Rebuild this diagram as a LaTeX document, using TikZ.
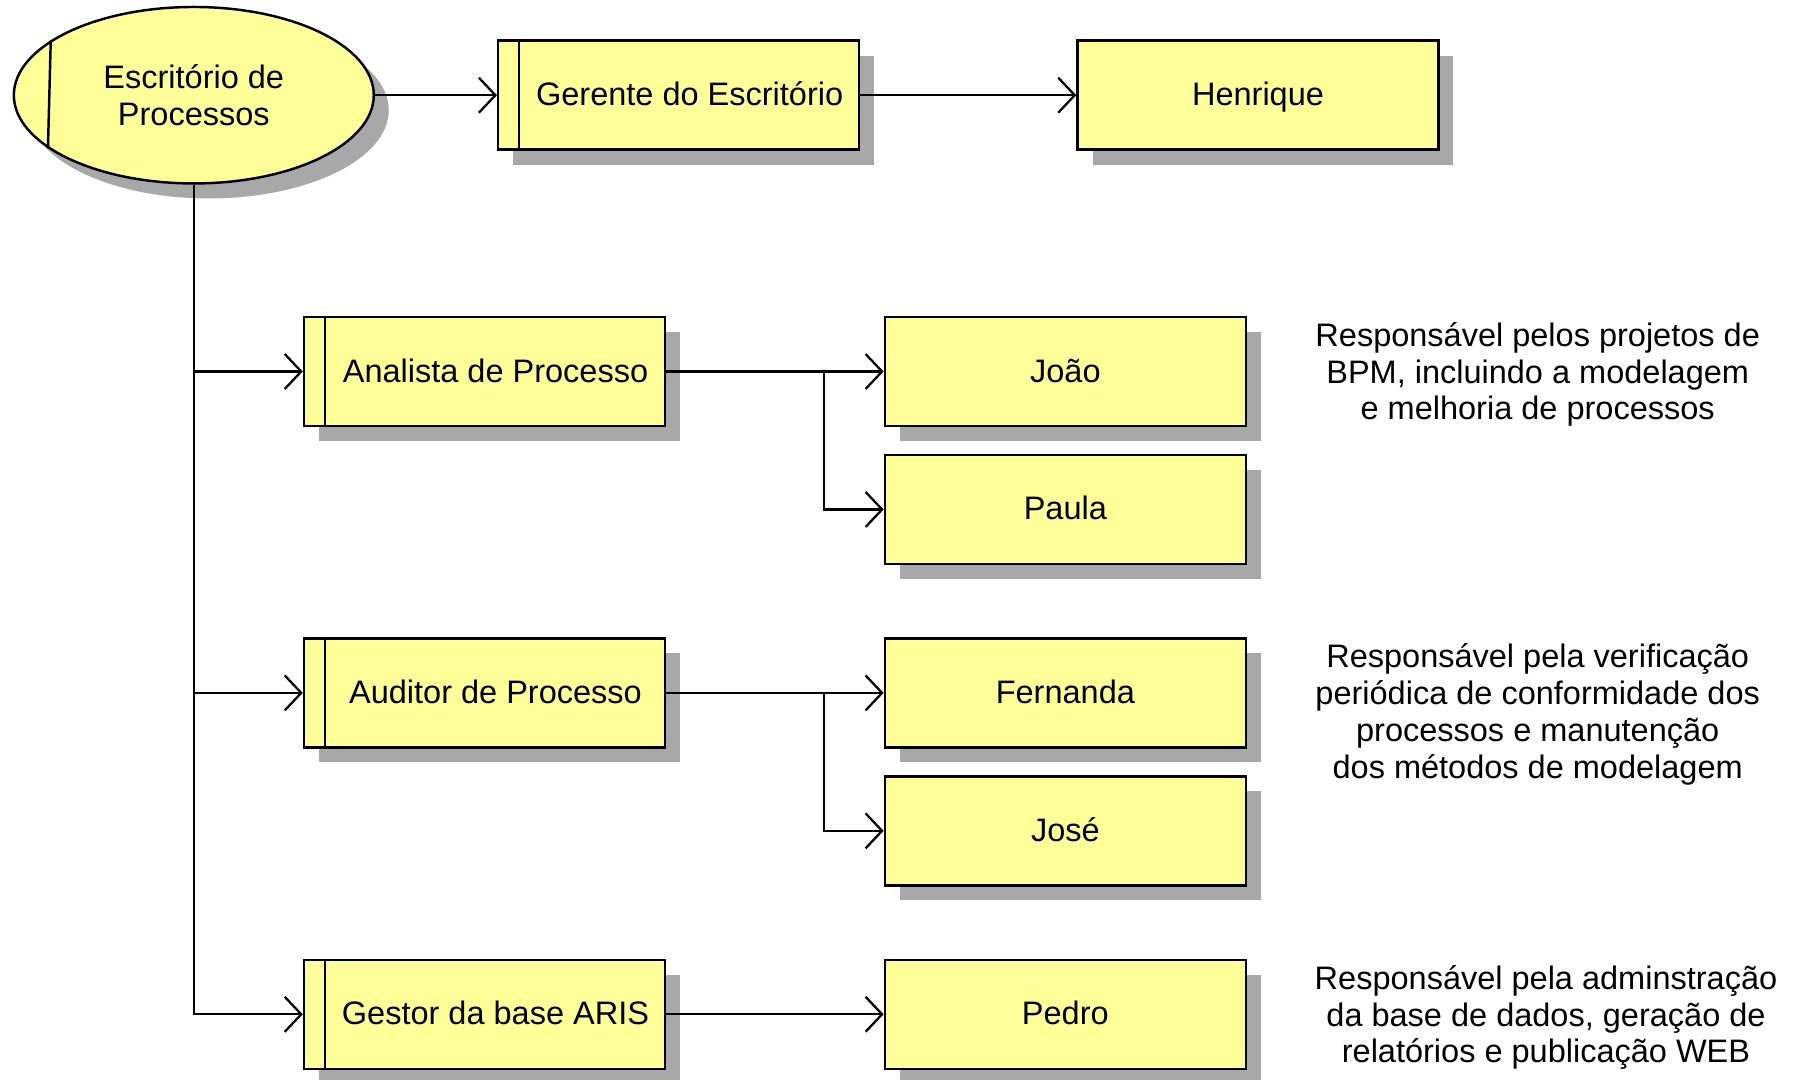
\documentclass[tikz,border=0pt]{standalone}
\usepackage{fontspec}
\setmainfont{Liberation Sans}
\usepackage{tikz}
\usetikzlibrary{arrows.meta, positioning, shapes.geometric, shadows}
\definecolor{orgfill}{RGB}{255, 255, 153}

\begin{document}
\begin{tikzpicture}[
    x=0.02cm, y=-0.02cm,
    boxshadow/.style={drop shadow={shadow xshift=0.3cm, shadow yshift=-0.3cm, opacity=1, fill=black!34}},
    base/.style={draw, line width=1.4pt, fill=orgfill, boxshadow, inner sep=0pt, align=center, font=\fontsize{18.5}{21}\selectfont},
    box/.style={base, rectangle, minimum width=7.22cm, minimum height=2.18cm, text height=13pt, text depth=1pt},
    unitbox/.style={base, ellipse, minimum width=7.2cm, minimum height=3.53cm},
    note/.style={align=center, font=\fontsize{18.5}{21}\selectfont},
    bar/.style={line width=1.4pt},
    arr/.style={-{Straight Barb[length=3.3mm, width=7mm]}, line width=1.3pt}
]
    \useasboundingbox (0,0) rectangle (1798,1079);

    % Office
    \node[unitbox] (esc) at (193.8, 95.2) {Escritório de\\Processos};
    \node[box, right=2.44cm of esc] (gerente) {\hspace*{0.44cm}Gerente do Escritório};
    \node[box, right=4.32cm of gerente] (henrique) {Henrique};

    % Roles
    \node[box] (analista) at (484.5, 371.5) {\hspace*{0.44cm}Analista de Processo};
    \node[box, below=4.2cm of analista] (auditor) {\hspace*{0.44cm}Auditor de Processo};
    \node[box, below=4.2cm of auditor] (gestor) {\hspace*{0.44cm}Gestor da base ARIS};

    % People
    \node[box, right=4.35cm of analista] (joao) {João};
    \node[box, below=0.53cm of joao] (paula) {Paula};
    \node[box, right=4.35cm of auditor] (fernanda) {Fernanda};
    \node[box, below=0.53cm of fernanda] (jose) {José};
    \node[box, right=4.35cm of gestor] (pedro) {Pedro};

    % Notes
    \node[note] (notaanalista) at (1537.7, 374.5) {Responsável pelos projetos de\\BPM, incluindo a modelagem\\e melhoria de processos};
    \node[note] (notaauditor) at (1537.7, 714.5) {Responsável pela verificação\\periódica de conformidade dos\\processos e manutenção\\dos métodos de modelagem};
    \node[note] (notagestor) at (1546, 1017.5) {Responsável pela adminstração\\da base de dados, geração de\\relatórios e publicação WEB};

    % Bars
    \draw[bar] (esc.159.6) -- (esc.200.4);
    \foreach \n in {gerente, analista, auditor, gestor}
        \draw[bar] ([xshift=0.44cm]\n.north west) -- ([xshift=0.44cm]\n.south west);

    \draw[arr] (esc.east) -- (gerente.west);
    \draw[arr] (gerente) -- (henrique);
    \draw[arr] (esc.south) |- (analista.west);
    \draw[arr] (esc.south) |- (auditor.west);
    \draw[arr] (esc.south) |- (gestor.west);
    \draw[arr] (analista) -- (joao);
    \draw[arr] (analista.east) -- ++(158,0) |- (paula.west);
    \draw[arr] (auditor) -- (fernanda);
    \draw[arr] (auditor.east) -- ++(158,0) |- (jose.west);
    \draw[arr] (gestor) -- (pedro);
\end{tikzpicture}
\end{document}
